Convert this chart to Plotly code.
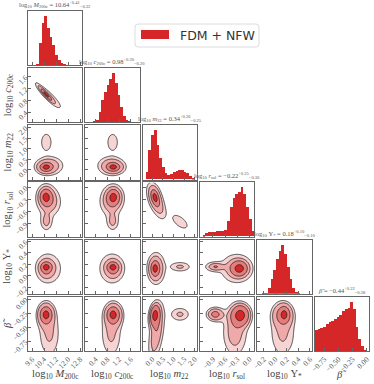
import numpy as np
import plotly.graph_objects as go
from plotly.subplots import make_subplots

# ---- parameters shown on the corner plot ----------------------------------
LABELS = [
    "log<sub>10</sub> <i>M</i><sub>200c</sub>",
    "log<sub>10</sub> <i>c</i><sub>200c</sub>",
    "log<sub>10</sub> <i>m</i><sub>22</sub>",
    "log<sub>10</sub> <i>r</i><sub>sol</sub>",
    "log<sub>10</sub> Υ<sub>*</sub>",
    "<i>β\u0303</i>",
]
MEDIANS = ["10.64", "0.98", "0.34", "−0.22", "0.18", "−0.44"]
ERR_UP = ["+0.41", "+0.20", "+0.26", "+0.25", "+0.10", "+0.22"]
ERR_DN = ["−0.32", "−0.20", "−0.25", "−0.30", "−0.10", "−0.28"]

RANGES = [[9.33, 12.95], [0.05, 1.9], [-0.45, 2.1], [-1.22, 0.12], [-0.31, 0.63], [-0.92, 0.04]]
DATA_MAX = [None, None, None, None, None, 0.0]
TICKVALS = [
    [9.6, 10.4, 11.2, 12.0, 12.8],
    [0.4, 0.8, 1.2, 1.6],
    [0.0, 0.5, 1.0, 1.5, 2.0],
    [-0.9, -0.6, -0.3, 0.0],
    [-0.2, 0.0, 0.2, 0.4, 0.6],
    [-0.75, -0.5, -0.25, 0.0],
]
TICKTEXT = [
    ["9.6", "10.4", "11.2", "12.0", "12.8"],
    ["0.4", "0.8", "1.2", "1.6"],
    ["0.0", "0.5", "1.0", "1.5", "2.0"],
    ["−0.9", "−0.6", "−0.3", "0.0"],
    ["−0.2", "0.0", "0.2", "0.4", "0.6"],
    ["−0.75", "−0.50", "−0.25", "0.00"],
]

# 1d marginals: 20 equal bins spanning each axis range, peak scaled to 1
HIST_M200C = [0, 0, 0, 0.03, 0.45, 0.85, 1.0, 0.75, 0.58, 0.4, 0.2, 0.1, 0.05, 0.02, 0, 0, 0, 0, 0, 0]
HIST_C200C = [0, 0, 0, 0.01, 0.04, 0.2, 0.45, 0.62, 0.75, 0.88, 1.0, 0.8, 0.55, 0.3, 0.12, 0.04, 0.01, 0, 0, 0]
HIST_M22 = [0, 0.15, 0.6, 0.9, 1.0, 0.7, 0.42, 0.25, 0.12, 0.08, 0.1, 0.14, 0.17, 0.19, 0.18, 0.15, 0.12, 0.07, 0.02, 0]
HIST_RSOL = [0, 0.03, 0.06, 0.08, 0.09, 0.09, 0.1, 0.1, 0.1, 0.12, 0.3, 0.6, 0.78, 0.85, 0.9, 1.0, 0.85, 0.6, 0.35, 0.1]
HIST_UPS = [0, 0, 0.005, 0.03, 0.12, 0.3, 0.5, 0.72, 0.88, 1.0, 0.82, 0.55, 0.3, 0.13, 0.05, 0.015, 0, 0, 0, 0]
HIST_BETA = [0.42, 0.45, 0.47, 0.5, 0.56, 0.6, 0.62, 0.66, 0.7, 0.74, 0.82, 0.86, 0.88, 1.0, 0.85, 0.5, 0.25, 0.1, 0.02, 0]
HISTS = [HIST_M200C, HIST_C200C, HIST_M22, HIST_RSOL, HIST_UPS, HIST_BETA]

LUMP_WEIGHT = [0.37, 0.50, 0.13]
LUMP_MEAN = [
    [10.50, 1.02, 0.12, -0.22, 0.13, -0.28],
    [10.75, 0.93, 0.20, -0.36, 0.13, -0.60],
    [10.55, 0.98, 1.30, -0.85, 0.16, -0.27],
]
LUMP_SIGMA = [
    [0.30, 0.17, 0.15, 0.15, 0.10, 0.12],
    [0.48, 0.24, 0.23, 0.22, 0.15, 0.30],
    [0.25, 0.13, 0.30, 0.14, 0.05, 0.08],
]
LUMP_CORR = {(0, 1): [-0.93, -0.9, -0.9], (2, 3): [-0.3, -0.6, -0.6], (2, 5): [0.2, 0.5, 0.0]}

RED = "#d62728"
FILLS = ["rgba(255,255,255,0)", "#f7d4d4", "#efa9a9", "#e67d7d", RED]
SERIF = "Liberation Serif"
N = 6
W, H, L, T, R, B = 374, 384, 28, 11, 5, 33


def density(i, j, X, Y):
    """2d lump density for x-parameter i and y-parameter j"""
    key = (min(i, j), max(i, j))
    Z = np.zeros_like(X)
    for k, w in enumerate(LUMP_WEIGHT):
        sx, sy = LUMP_SIGMA[k][i], LUMP_SIGMA[k][j]
        rho = LUMP_CORR.get(key, [0, 0, 0])[k]
        u = (X - LUMP_MEAN[k][i]) / sx
        v = (Y - LUMP_MEAN[k][j]) / sy
        q = (u * u - 2 * rho * u * v + v * v) / (1 - rho * rho)
        Z += w / (sx * sy * np.sqrt(1 - rho * rho)) * np.exp(-0.5 * q)
    return Z


def sigma_levels(Z):
    """turn density into (negative) credible 'sigma' so contours sit at 0.5,1,1.5,2"""
    flat = Z.ravel()
    order = np.argsort(flat)[::-1]
    cum = np.cumsum(flat[order])
    cum /= cum[-1]
    frac = np.empty_like(cum)
    frac[order] = cum
    sig = np.sqrt(-2 * np.log(np.clip(1 - frac, 1e-12, 1)))
    return -np.minimum(sig, 5).reshape(Z.shape)


colorscale = [
    [0, FILLS[0]], [0.125, FILLS[0]], [0.125, FILLS[1]], [0.375, FILLS[1]],
    [0.375, FILLS[2]], [0.625, FILLS[2]], [0.625, FILLS[3]], [0.875, FILLS[3]],
    [0.875, FILLS[4]], [1, FILLS[4]],
]

specs = [[{} if c <= r else None for c in range(N)] for r in range(N)]
fig = make_subplots(rows=N, cols=N, specs=specs,
                    horizontal_spacing=0.0088, vertical_spacing=0.0088)

axis_style = dict(showline=True, linecolor="#666", linewidth=1, mirror=True,
                  ticks="inside", ticklen=3, tickwidth=0.8, tickcolor="#666",
                  showgrid=False, zeroline=False, automargin=False,
                  tickfont=dict(family=SERIF, size=7.5, color="#555"))

for r in range(N):
    for c in range(r + 1):
        if r == c:
            lo, hi = RANGES[c]
            edges = np.linspace(lo, hi, len(HISTS[c]) + 1)
            fig.add_trace(go.Bar(
                x=(edges[:-1] + edges[1:]) / 2, y=HISTS[c], width=edges[1] - edges[0],
                marker=dict(color=RED, line=dict(width=0)), hoverinfo="skip",
                showlegend=False), row=r + 1, col=c + 1)
            fig.update_yaxes(range=[0, 1.1], showticklabels=False, ticks="",
                             showline=True, linecolor="#666", linewidth=1, mirror=True,
                             showgrid=False, zeroline=False, automargin=False,
                             row=r + 1, col=c + 1)
        else:
            xhi = RANGES[c][1] if DATA_MAX[c] is None else DATA_MAX[c]
            yhi = RANGES[r][1] if DATA_MAX[r] is None else DATA_MAX[r]
            gx = np.linspace(RANGES[c][0], xhi, 90)
            gy = np.linspace(RANGES[r][0], yhi, 90)
            X, Y = np.meshgrid(gx, gy)
            z = sigma_levels(density(c, r, X, Y))
            fig.add_trace(go.Contour(
                x=gx, y=gy, z=z, autocontour=False,
                contours=dict(start=-2, end=-0.5, size=0.5, coloring="fill", showlines=True),
                line=dict(color="#1a1a1a", width=0.75, smoothing=1.0),
                colorscale=colorscale, showscale=False, hoverinfo="skip"),
                row=r + 1, col=c + 1)
            fig.update_yaxes(range=RANGES[r], tickvals=TICKVALS[r], ticktext=TICKTEXT[r],
                             showticklabels=(c == 0), tickangle=-45,
                             row=r + 1, col=c + 1, **axis_style)
        fig.update_xaxes(range=RANGES[c], tickvals=TICKVALS[c], ticktext=TICKTEXT[c],
                         showticklabels=(r == N - 1), tickangle=-45,
                         row=r + 1, col=c + 1, **axis_style)

PW, PH = W - L - R, H - T - B


def px(x):
    return (x - L) / PW


def py(y):
    return 1 - (y - T) / PH


label_font = dict(family=SERIF, size=10.5, color="#444")
for c in range(N):
    sp = fig.get_subplot(c + 1, c + 1)
    xd, yd = sp.xaxis.domain, sp.yaxis.domain
    # titles over the diagonal
    fig.add_annotation(
        x=(xd[0] + xd[1]) / 2, y=yd[1], xref="paper", yref="paper",
        xanchor="center", yanchor="bottom", showarrow=False,
        text=f"{LABELS[c]} = {MEDIANS[c]}<sup>{ERR_UP[c]}</sup><sub>{ERR_DN[c]}</sub>",
        font=dict(family=SERIF, size=6.5, color="#555"))
    # x labels under bottom row
    fig.add_annotation(x=(xd[0] + xd[1]) / 2, y=py(374), xref="paper", yref="paper",
                       xanchor="center", yanchor="middle", showarrow=False,
                       text=LABELS[c], font=label_font)
    # y labels left of first column
    if c > 0:
        fig.add_annotation(x=px(8), y=(yd[0] + yd[1]) / 2, xref="paper", yref="paper",
                           xanchor="center", yanchor="middle", showarrow=False,
                           textangle=-90, text=LABELS[c], font=label_font)

# legend box
x0, x1, y0, y1 = px(135), px(259), py(47), py(24)
rx, ry = 3 / PW, 3 / PH
box = (f"M {x0 + rx},{y0} L {x1 - rx},{y0} Q {x1},{y0} {x1},{y0 + ry} "
       f"L {x1},{y1 - ry} Q {x1},{y1} {x1 - rx},{y1} L {x0 + rx},{y1} "
       f"Q {x0},{y1} {x0},{y1 - ry} L {x0},{y0 + ry} Q {x0},{y0} {x0 + rx},{y0} Z")
fig.add_shape(type="path", path=box, xref="paper", yref="paper",
              line=dict(color="#dcdcdc", width=1), fillcolor="white")
fig.add_shape(type="rect", xref="paper", yref="paper",
              x0=px(141), x1=px(169), y0=py(39), y1=py(30),
              line=dict(width=0), fillcolor=RED)
fig.add_annotation(x=px(178), y=py(35.5), xref="paper", yref="paper",
                   xanchor="left", yanchor="middle", showarrow=False,
                   text="FDM + NFW", font=dict(family="DejaVu Sans", size=12.5, color="#333"))

fig.update_layout(
    width=W, height=H,
    margin=dict(l=L, r=R, t=T, b=B, autoexpand=False),
    paper_bgcolor="white", plot_bgcolor="white",
    showlegend=False, bargap=0,
    font=dict(family=SERIF, color="#444"),
)

# drop the browser's default body margin so the figure sits at the window corner
fig.write_html("out.html", config={"displayModeBar": False},
               post_script="document.body.style.margin='0px';")
